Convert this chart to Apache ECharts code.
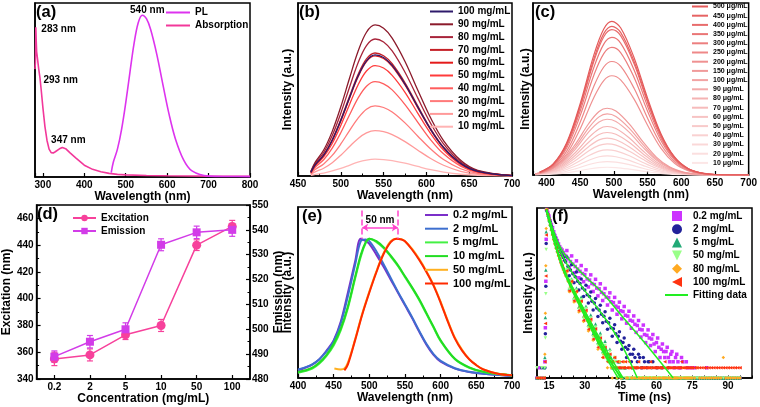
<!DOCTYPE html>
<html><head><meta charset="utf-8">
<script src="https://cdn.jsdelivr.net/npm/echarts@6/dist/echarts.min.js"></script>
<style>html,body{margin:0;padding:0;background:#fff}#c{width:760px;height:407px}</style>
</head><body><div id="c"></div>
<script>
// ---------- (a) ----------
const aPLx = [465,470,480,490,500,510,520,530,540,550,560,575,590,605,620,640,660,700,750,800];
const aPLy = [0.025,0.085,0.160,0.274,0.426,0.599,0.765,0.885,0.930,0.910,0.849,0.705,0.528,0.357,0.219,0.097,0.035,0.005,0.003,0.002];
const aAbsX = [281,282,283,284,285,287,290,293,296,300,305,310,315,320,325,330,340,347,355,365,380,400,420,440,460,480,500,550,600,700,800];
const aAbsY = [0.62,0.66,0.86,0.78,0.72,0.68,0.62,0.57,0.50,0.40,0.29,0.21,0.16,0.14,0.138,0.145,0.162,0.17,0.163,0.14,0.108,0.068,0.044,0.03,0.021,0.015,0.012,0.009,0.007,0.005,0.004];
// ---------- (b) ----------
const bX = [465,470,480,490,500,510,520,530,540,550,560,575,590,605,620,640,660,700];
const bNames = ['100 mg/mL','90 mg/mL','80 mg/mL','70 mg/mL','60 mg/mL','50 mg/mL','40 mg/mL','30 mg/mL','20 mg/mL','10 mg/mL'];
const b100 = [0.021,0.064,0.120,0.207,0.321,0.451,0.576,0.666,0.700,0.685,0.639,0.531,0.398,0.269,0.165,0.073,0.027,0.002];
const b90  = [0.026,0.079,0.150,0.258,0.400,0.562,0.718,0.831,0.873,0.854,0.797,0.662,0.496,0.335,0.205,0.091,0.033,0.003];
const b80  = [0.024,0.072,0.136,0.234,0.363,0.510,0.652,0.754,0.792,0.775,0.723,0.600,0.450,0.304,0.186,0.082,0.030,0.002];
const b70  = [0.021,0.065,0.122,0.210,0.326,0.458,0.585,0.677,0.711,0.695,0.649,0.539,0.404,0.273,0.167,0.074,0.027,0.002];
const b60  = [0.021,0.063,0.119,0.205,0.318,0.447,0.571,0.661,0.694,0.679,0.634,0.526,0.394,0.266,0.163,0.072,0.026,0.002];
const b50  = [0.019,0.058,0.110,0.188,0.292,0.411,0.525,0.607,0.638,0.624,0.582,0.484,0.362,0.245,0.150,0.066,0.024,0.002];
const b40  = [0.016,0.050,0.094,0.161,0.250,0.351,0.449,0.519,0.545,0.533,0.498,0.413,0.310,0.209,0.128,0.057,0.021,0.002];
const b30  = [0.012,0.037,0.070,0.119,0.185,0.261,0.333,0.386,0.405,0.396,0.370,0.307,0.230,0.156,0.095,0.042,0.015,0.001];
const b20  = [0.008,0.024,0.045,0.077,0.120,0.169,0.216,0.249,0.262,0.256,0.239,0.199,0.149,0.101,0.062,0.027,0.010,0.001];
const b10  = [0.003,0.009,0.017,0.029,0.044,0.062,0.080,0.092,0.097,0.095,0.089,0.074,0.055,0.037,0.023,0.010,0.004,0.000];
// ---------- (c) ----------
const cX = [390,410,430,450,470,485,497,510,530,550,570,590,610,630,650,700];
const cXlow = [383,403,423,443,463,478,490,503,523,543,563,583,603,623,643,700];
const cNames = ['500 μg/mL','450 μg/mL','400 μg/mL','350 μg/mL','300 μg/mL','250 μg/mL','200 μg/mL','150 μg/mL','100 μg/mL','90 μg/mL','80 μg/mL','70 μg/mL','60 μg/mL','50 μg/mL','40 μg/mL','30 μg/mL','20 μg/mL','10 μg/mL'];
const c500 = [0.017,0.065,0.188,0.415,0.694,0.849,0.893,0.856,0.682,0.447,0.239,0.105,0.038,0.012,0.003,0];
const c450 = [0.016,0.063,0.182,0.402,0.671,0.822,0.864,0.829,0.660,0.432,0.232,0.102,0.037,0.011,0.003,0];
const c400 = [0.016,0.062,0.178,0.393,0.657,0.804,0.845,0.810,0.646,0.423,0.226,0.100,0.036,0.011,0.003,0];
const c350 = [0.015,0.058,0.169,0.372,0.622,0.761,0.800,0.767,0.611,0.400,0.214,0.094,0.034,0.010,0.002,0];
const c300 = [0.014,0.054,0.157,0.345,0.577,0.706,0.742,0.712,0.567,0.371,0.199,0.088,0.032,0.010,0.002,0];
const c250 = [0.013,0.048,0.139,0.307,0.513,0.628,0.660,0.633,0.504,0.330,0.177,0.078,0.028,0.009,0.002,0];
const c200 = [0.011,0.042,0.122,0.268,0.448,0.549,0.577,0.553,0.441,0.289,0.155,0.068,0.025,0.008,0.002,0];
const c150 = [0.007,0.028,0.082,0.180,0.301,0.369,0.388,0.372,0.296,0.194,0.104,0.046,0.017,0.005,0.001,0];
const c100 = [0.007,0.026,0.075,0.165,0.276,0.338,0.355,0.340,0.271,0.178,0.095,0.042,0.015,0.005,0.001,0];
const c90  = [0.006,0.024,0.068,0.151,0.252,0.308,0.324,0.311,0.248,0.162,0.087,0.038,0.014,0.004,0.001,0];
const c80  = [0.005,0.021,0.060,0.131,0.219,0.268,0.282,0.270,0.215,0.141,0.076,0.033,0.012,0.004,0.001,0];
const c70  = [0.005,0.018,0.052,0.115,0.192,0.235,0.247,0.237,0.189,0.124,0.066,0.029,0.011,0.003,0.001,0];
const c60  = [0.004,0.016,0.045,0.100,0.166,0.204,0.214,0.205,0.163,0.107,0.057,0.025,0.009,0.003,0.001,0];
const c50  = [0.003,0.013,0.038,0.084,0.141,0.172,0.181,0.174,0.138,0.091,0.049,0.021,0.008,0.002,0.001,0];
const c40  = [0.003,0.011,0.031,0.068,0.113,0.139,0.146,0.140,0.112,0.073,0.039,0.017,0.006,0.002,0,0];
const c30  = [0.002,0.008,0.023,0.052,0.086,0.106,0.111,0.106,0.085,0.056,0.030,0.013,0.005,0.001,0,0];
const c20  = [0.001,0.006,0.016,0.036,0.061,0.074,0.078,0.075,0.060,0.039,0.021,0.009,0.003,0.001,0,0];
const c10  = [0.001,0.003,0.009,0.021,0.035,0.043,0.045,0.043,0.034,0.023,0.012,0.005,0.002,0.001,0,0];
// ---------- (d) ----------
const catD = ['0.2','2','5','10','50','100'];
const excit = [355,358,373,380,440,454];
const excErr = [5,4.5,3.5,4.5,4,4.5];
const emis = [489,495,500,534,539,540];
const emErr = [2.3,2.5,2.6,2.4,2.5,2.6];
// ---------- (e) ----------
const eX1 = [400,410,420,430,440,450,460,470,480,488,495,500,510,520,530,540,550,560,570,580,590,600,620,640,660,700];
const e02 = [0.045,0.06,0.078,0.11,0.16,0.22,0.33,0.50,0.68,0.815,0.80,0.785,0.72,0.65,0.575,0.50,0.425,0.35,0.27,0.195,0.135,0.095,0.055,0.035,0.025,0.012];
const e2  = [0.05,0.062,0.08,0.11,0.155,0.215,0.32,0.48,0.66,0.80,0.81,0.80,0.74,0.665,0.585,0.505,0.43,0.355,0.275,0.20,0.14,0.10,0.057,0.036,0.025,0.012];
const e5  = [0.03,0.04,0.055,0.085,0.13,0.19,0.28,0.41,0.58,0.71,0.79,0.815,0.795,0.76,0.71,0.655,0.59,0.525,0.455,0.375,0.295,0.215,0.11,0.06,0.035,0.015];
const e10 = [0.035,0.045,0.06,0.09,0.135,0.2,0.29,0.42,0.59,0.72,0.795,0.815,0.80,0.765,0.715,0.66,0.595,0.53,0.46,0.38,0.30,0.22,0.112,0.062,0.036,0.016];
const eX50 = [451,460,465,470,480,490,500,510,520,530,538,545,550,560,570,580,590,600,610,620,630,640,650,660,680,700];
const e50 = [0.055,0.05,0.055,0.09,0.225,0.375,0.505,0.625,0.73,0.80,0.815,0.812,0.80,0.755,0.695,0.625,0.545,0.445,0.335,0.235,0.165,0.11,0.075,0.05,0.025,0.016];
const eX100 = [465,470,480,490,500,510,520,530,538,545,550,560,570,580,590,600,610,620,630,640,650,660,680,700];
const e100 = [0.045,0.08,0.22,0.37,0.50,0.62,0.725,0.795,0.815,0.81,0.80,0.75,0.69,0.62,0.54,0.44,0.33,0.23,0.16,0.11,0.075,0.05,0.025,0.016];
const eShift = {from:490, to:540, top:0.98, bottom:0.815, arrow:0.88};
// ---------- (f) ----------
const tF = [10,11,12,13,14,15,16,17,18,19,20,21,22,23,24,25,26,27,28,29,30,31,32,33,34,35,36,37,38,39,40,41,42,43,44,45,46,47,48,49,50,51,52,53,54,55,56,57,58,59,60,61,62,63,64,65,66,67,68,69,70,71,72,73,74,75,76,77,78,79,80,81,82,83,84,85,86,87,88,89,90,91,92,93,94,95];
const f02 = [1,2,1,1, 90000,58000,33000,20000,12900,8800,6400,4900,3900,3200, 2660,2240,1900,1600,1370,1180,1100,820,760,600, 560,440,420,330,300,240,230,175,165,130, 120,95,90,70,66,50,47,38,35,27, 26,19,18,15,14,10,11,8,7,6, 6,4,5,3,4,3,2,3,1,2, 1,1,2,1,1,1,1,2,1,1, 1,1,1,1,1,1,1,1,1,1,1,1];
const f2 = [1,1,2,1, 88000,51000,29000,17400,10800,7100,4860,3480,2570,1950, 1500,1170,950,700,600,440,390,280,250,180, 160,115,100,75,66,47,42,30,28,20, 17,12,11,8,7,5,5,4,3,4, 2,3,2,3,2,1,2,1,2,1, 1,2,1,1,1,1,1,1,1,1, 1,1,1,1,1,1,1,1,1,1, 1,1,1,1,1,1,1,1,1,1,1,1];
const f5 = [1,1,1,2, 85000,45000,24000,13000,7300,4400,2750,1800,1220,850, 600,440,330,230,180,125,98,67,53,37, 29,20,16,11,8,7,5,4,3,2, 3,2,1,2,1,1,2,1,1,1, 1,1,1,1,1,1,1,1,1,1, 1,1,1,1,1,1,1,1,1,1, 1,1,1,1,1,1,1,1,1,1, 1,1,1,1,1,1,1,1,1,1,1,1];
const f50 = [2,1,2,1, 87000,46000,23500,12600,7100,4200,2620,1700,1145,790, 557,400,285,200,150,105,82,57,44,30, 24,16,13,9,7,5,4,3,2,3, 2,1,2,1,1,1,1,2,1,1, 1,1,1,1,1,1,1,1,1,1, 1,1,1,1,1,1,1,1,1,1, 1,1,1,1,1,1,1,1,1,1, 1,1,1,1,1,1,1,1,1,1,1,1];
const f80 = [1,1,1,1, 90000,44000,22000,11500,6400,3800,2350,1500,1000,690, 480,345,238,175,122,92,63,48,33,26, 18,14,10,7,5,4,3,2,3,2, 2,1,2,2,1,2,1,1,2,1, 1,2,1,1,2,1,1,1,2,1, 1,1,2,1,1,1,1,2,1,1, 1,1,1,2,1,1,1,1,1,1, 1,1,1,1,4,1,1,1,1,1,1,1];
const f100 = [1,1,1,1, 89000,45000,22800,12000,6800,4000,2500,1600,1070,740, 520,375,260,190,135,100,70,54,38,29, 20,16,11,8,6,5,4,3,2,2, 2,2,2,3,2,2,2,2,2,2, 2,2,2,2,2,2,2,2,2,2, 2,2,2,2,2,2,2,2,2,2, 2,2,2,2,2,2,2,2,2,2, 2,2,2,2,2,2,2,2,2,2,2,2];
// half-channel readings (noisy cloud)
const tF2 = [14.5,15.5,16.5,17.5,18.5,19.5,20.5,21.5,22.5,23.5,24.5,25.5,26.5,27.5,28.5,29.5,30.5,31.5,32.5,33.5,34.5,35.5,36.5,37.5,38.5,39.5,40.5,41.5,42.5,43.5,44.5,45.5,46.5,47.5,48.5,49.5,50.5,51.5,52.5,53.5,54.5,55.5,56.5,57.5,58.5,59.5,60.5,61.5,62.5,63.5,64.5,65.5,66.5,67.5,68.5,69.5,70.5,71.5,72.5,73.5,74.5];
const h02 = [74000,42000,26500,15500,11000,7300,5800,4100,5600,1750, 3900,1240,2790,890,2030,680,1520,475,1080,350, 800,260,590,190,430,140,320,100,235,75, 170,55,127,41,92,29,67,22,49,16, 36,11,26,9,19,6,15,4,10,4, 8,3,6,2,5,2,4,1,3,1,2];
const h2 = [67000,38500,22500,13700,8800,5900,4100,2900,3600,1020, 2130,630,1310,390,820,250,530,160,340,100, 217,64,139,42,89,27,57,17,37,11, 23,7,15,4,9,3,7,2,5,2, 4,1,3,1,3,1,2,1,2,1, 1,1,1,1,1,1,1,1,1,1,1];
const h5 = [62000,33000,17600,9700,5700,3500,2200,1480,1630,430, 820,230,440,122,240,66,130,36,71,20, 39,11,21,6,12,4,7,2,4,1, 3,1,2,1,1,1,1,1,1,1, 1,1,1,1,1,1,1,1,1,1, 1,1,1,1,1,1,1,1,1,1,1];
const h50 = [63000,33000,17200,9400,5500,3300,2100,1400,1520,400, 750,200,380,104,200,56,110,30,58,16, 31,9,17,5,9,3,6,2,4,1, 3,1,2,1,1,1,1,1,1,1, 1,1,1,1,1,1,1,1,1,1, 1,1,1,1,1,1,1,1,1,1,1];
const h80 = [63000,31000,16000,8600,4900,3000,1880,1230,1330,345, 650,172,325,88,170,46,88,24,47,13, 25,7,13,4,7,2,5,1,4,1, 3,1,3,1,2,1,2,1,1,2, 1,1,2,1,1,1,2,1,1,1, 2,1,1,1,1,2,1,1,1,1,1];
const h100 = [63000,32000,16500,9000,5200,3150,2000,1300,1420,370, 700,188,355,96,185,50,98,27,53,14, 28,8,15,4,8,3,5,3,4,3, 2,3,2,2,3,2,2,2,3,2, 2,2,2,3,2,2,2,2,2,3, 2,2,2,2,2,2,3,2,2,2,2];
const riseT = [13.3,13.5,13.7,13.85];
const rise02 = [3,30,700,12000], rise2 = [2,20,500,9000], rise5 = [4,60,1500,20000], rise50 = [2,15,300,6000], rise80 = [5,80,2000,25000], rise100 = [3,40,1000,16000];
const fitT02 = [14,15,16,17,18,20,22,25,30,37,45,55,67];
const fitC02 = [90000,56000,33000,20000,13000,6500,4000,2300,1000,343,74,11,1];
const fitT2 = [14,15,16,17,18,20,22,25,30,35,40,46,52];
const fitC2 = [88000,51000,29000,17400,10800,4860,2570,1170,370,122,40,8,1];
const fitT5 = [14,15,16,17,18,20,22,25,30,35,40,46];
const fitC5 = [85000,45000,24000,13000,7300,2750,1220,440,94,21,5,1];
const fitT50 = [14,15,16,17,18,20,22,25,30,35,40,45];
const fitC50 = [87000,46000,23500,12600,7100,2620,1145,397,80,17,4,1];
const fitT80 = [14,15,16,17,18,20,22,25,30,35,40,44];
const fitC80 = [90000,44000,22000,11500,6400,2350,1000,340,65,13,3,1];
const fitT100 = [14,15,16,17,18,20,22,25,30,35,40,45.5];
const fitC100 = [89000,45000,22800,12000,6800,2500,1070,370,72,15,3.5,1];

// ---------- styling ----------
const FF = '"Liberation Sans", Arial, sans-serif';
const TXT = {fontFamily: FF, fontWeight: 'bold', color: '#000'};
const AXL = {color: '#000', width: 1.5};
const zip = (xs, ys) => xs.map((x, i) => [x, ys[i]]);

function xAx(g, extra) {
  return Object.assign({
    gridIndex: g, type: 'value',
    axisLine: {show: true, onZero: false, lineStyle: AXL},
    axisTick: {show: true, inside: true, length: 4, lineStyle: {color: '#000', width: 1.2}},
    minorTick: {show: false},
    axisLabel: Object.assign({fontSize: 10, margin: 3}, TXT),
    splitLine: {show: false},
    nameLocation: 'middle', nameGap: 13,
    nameTextStyle: Object.assign({fontSize: 12}, TXT)
  }, extra);
}
function yHidden(g, name, gap, extra) {
  return Object.assign({
    gridIndex: g, type: 'value', min: 0, max: 1,
    axisLine: {show: true, onZero: false, lineStyle: AXL},
    axisTick: {show: false}, axisLabel: {show: false}, splitLine: {show: false},
    name: name, nameLocation: 'middle', nameGap: gap,
    nameTextStyle: Object.assign({fontSize: 12}, TXT)
  }, extra || {});
}
function lineS(name, xi, yi, xs, ys, color, w, extra) {
  return Object.assign({
    name: name, type: 'line', xAxisIndex: xi, yAxisIndex: yi, data: zip(xs, ys),
    symbol: 'none', showSymbol: false, smooth: 0.35,
    lineStyle: {color: color, width: w}, itemStyle: {color: color}
  }, extra || {});
}
function errBar(color) {
  return function (params, api) {
    const x = api.value(0);
    const p1 = api.coord([x, api.value(1)]);
    const p2 = api.coord([x, api.value(2)]);
    const w = 3, st = {stroke: color, lineWidth: 1.2};
    return {type: 'group', children: [
      {type: 'line', shape: {x1: p1[0], y1: p1[1], x2: p2[0], y2: p2[1]}, style: st},
      {type: 'line', shape: {x1: p1[0] - w, y1: p1[1], x2: p1[0] + w, y2: p1[1]}, style: st},
      {type: 'line', shape: {x1: p2[0] - w, y1: p2[1], x2: p2[0] + w, y2: p2[1]}, style: st}
    ]};
  };
}
function legendLine(o) {
  return Object.assign({orient: 'vertical', padding: 0, selectedMode: false, icon: 'rect', itemHeight: 2,
    textStyle: Object.assign({fontSize: 10, lineHeight: 10}, TXT)}, o);
}
const lblTxt = Object.assign({fontSize: 10}, TXT);

const bColors = ['#2e1a6b','#8b1a2b','#a8243a','#c52027','#e41a1a','#ff3b3b','#ff5c5c','#ff7a7a','#ff9999','#ffb4b4'];
const bData = [b100,b90,b80,b70,b60,b50,b40,b30,b20,b10];
const cColors = ['#e45a5a','#e66363','#e86c6c','#ea7676','#ec7f7f','#ee8888','#ef9191','#f09a9a','#f2a3a3','#f3abab','#f4b3b3','#f6bbbb','#f7c3c3','#f8caca','#f9d1d1','#fad8d8','#fbdfdf','#fce6e6'];
const cData = [c500,c450,c400,c350,c300,c250,c200,c150,c100,c90,c80,c70,c60,c50,c40,c30,c20,c10];
const eNames = ['0.2\u00a0mg/mL','2\u00a0mg/mL','5\u00a0mg/mL','10\u00a0mg/mL','50\u00a0mg/mL','100\u00a0mg/mL'];
const fNames = ['0.2 mg/mL\u00a0','2 mg/mL\u00a0','5 mg/mL\u00a0','50 mg/mL\u00a0','80 mg/mL\u00a0','100 mg/mL\u00a0'];
const fColors = ['#cc33ff','#22229a','#22aa77','#99ff88','#ffaa22','#ff3311'];
const fSymbols = ['rect','circle','triangle','path://M0,0 L10,0 L5,10 Z','diamond','path://M10,0 L10,10 L0,5 Z'];
const fData = [f02,f2,f5,f50,f80,f100];
const fHalf = [h02,h2,h5,h50,h80,h100];
const fRise = [rise02,rise2,rise5,rise50,rise80,rise100];
const fFitT = [fitT02,fitT2,fitT5,fitT50,fitT80,fitT100];
const fFitC = [fitC02,fitC2,fitC5,fitC50,fitC80,fitC100];

const series = [];
// (a)
series.push(lineS('Absorption', 0, 0, aAbsX, aAbsY, '#f2389a', 1.6, {smooth: false,
  markPoint: {symbol: 'circle', symbolSize: 1, itemStyle: {color: 'rgba(0,0,0,0)'}, silent: true,
    data: [
      {coord: [283, 0.86], label: Object.assign({show: true, position: 'right', distance: 5, offset: [0, 2], formatter: '283 nm'}, lblTxt)},
      {coord: [293, 0.57], label: Object.assign({show: true, position: 'right', distance: 5, offset: [-2, 2], formatter: '293 nm'}, lblTxt)},
      {coord: [347, 0.17], label: Object.assign({show: true, position: 'inside', offset: [6, -7.5], formatter: '347 nm'}, lblTxt)}
    ]}}));
series.push(lineS('PL', 0, 0, aPLx, aPLy, '#dd33ee', 1.6, {
  markPoint: {symbol: 'circle', symbolSize: 1, itemStyle: {color: 'rgba(0,0,0,0)'}, silent: true,
    data: [{coord: [540, 0.93], label: Object.assign({show: true, position: 'inside', offset: [5, -5], formatter: '540 nm'}, lblTxt)}]}}));
// (b)
for (let i = bNames.length - 1; i >= 0; i--) series.push(lineS(bNames[i], 1, 1, bX, bData[i], bColors[i], 1.3));
// (c)
for (let i = cNames.length - 1; i >= 0; i--) series.push(lineS(cNames[i], 2, 2, i < 7 ? cX : cXlow, cData[i], cColors[i], 1.2));
// (d)
series.push({name: 'excErr', type: 'custom', xAxisIndex: 3, yAxisIndex: 3, renderItem: errBar('#f7419b'),
  data: catD.map((c, i) => [i, excit[i] - excErr[i], excit[i] + excErr[i]]), z: 3});
series.push({name: 'emErr', type: 'custom', xAxisIndex: 3, yAxisIndex: 4, renderItem: errBar('#d23ce8'),
  data: catD.map((c, i) => [i, emis[i] - emErr[i], emis[i] + emErr[i]]), z: 3});
series.push({name: 'Excitation', type: 'line', xAxisIndex: 3, yAxisIndex: 3, data: excit, symbol: 'circle', symbolSize: 9,
  lineStyle: {color: '#f7419b', width: 1.5}, itemStyle: {color: '#f7419b'}, z: 4});
series.push({name: 'Emission', type: 'line', xAxisIndex: 3, yAxisIndex: 4, data: emis, symbol: 'rect', symbolSize: 8,
  lineStyle: {color: '#d23ce8', width: 1.5}, itemStyle: {color: '#d23ce8'}, z: 4});
// (e)
series.push(lineS(eNames[0], 4, 5, eX1, e02, '#7b2fc9', 2, {
  markLine: {silent: true, animation: false, symbol: ['none', 'none'], label: {show: false},
    lineStyle: {color: '#ff44cc', width: 1.5, type: 'dashed'},
    data: [
      [{coord: [eShift.from, eShift.top]}, {coord: [eShift.from, eShift.bottom]}],
      [{coord: [eShift.to, eShift.top]}, {coord: [eShift.to, eShift.bottom]}],
      [{coord: [eShift.from, eShift.arrow], symbol: 'arrow', symbolSize: 6, lineStyle: {type: 'solid', color: '#ff44cc', width: 1.5},
        label: Object.assign({show: true, position: 'middle', distance: 2, formatter: '50 nm'}, lblTxt)},
       {coord: [eShift.to, eShift.arrow], symbol: 'arrow', symbolSize: 6}]
    ]}}));
series.push(lineS(eNames[1], 4, 5, eX1, e2, '#3d6fcf', 2));
series.push(lineS(eNames[2], 4, 5, eX1, e5, '#44f044', 2));
series.push(lineS(eNames[3], 4, 5, eX1, e10, '#22dd22', 2));
series.push(lineS(eNames[4], 4, 5, eX50, e50, '#ffb020', 2));
series.push(lineS(eNames[5], 4, 5, eX100, e100, '#ff2a00', 2));
// (f)
for (let i = 0; i < 6; i++) {
  series.push({name: fNames[i], type: 'scatter', xAxisIndex: 5, yAxisIndex: 6, symbol: fSymbols[i], symbolSize: 3.5,
    data: zip(tF, fData[i]).concat(zip(tF2, fHalf[i]), zip(riseT, fRise[i])),
    itemStyle: {color: fColors[i], opacity: 1}, z: 2 + i * 0.1});
}
for (let i = 0; i < 6; i++) {
  series.push({name: 'Fitting data', type: 'line', xAxisIndex: 5, yAxisIndex: 6, data: zip(fFitT[i], fFitC[i]),
    symbol: 'none', smooth: 0.3, lineStyle: {color: '#22ee22', width: 1.5}, itemStyle: {color: '#22ee22'}, z: 5});
}

const option = {
  animation: false,
  backgroundColor: '#fff',
  textStyle: {fontFamily: FF},
  title: [
    {text: '(a)', left: 36, top: 4}, {text: '(b)', left: 299, top: 4}, {text: '(c)', left: 535, top: 4},
    {text: '(d)', left: 37, top: 206}, {text: '(e)', left: 302, top: 208}, {text: '(f)', left: 552, top: 208}
  ].map(t => Object.assign({padding: 0, textStyle: Object.assign({fontSize: 16.5}, TXT)}, t)),
  grid: [
    {left: 35, top: 3, width: 215, height: 174},
    {left: 298, top: 3, width: 214, height: 173},
    {left: 533, top: 3, width: 217, height: 172},
    {left: 35, top: 205, width: 215, height: 174},
    {left: 298, top: 207, width: 214, height: 171},
    {left: 537, top: 208, width: 215, height: 170}
  ].map(g => Object.assign({show: true, borderColor: '#000', borderWidth: 1.5, backgroundColor: 'rgba(0,0,0,0)'}, g)),
  xAxis: [
    xAx(0, {min: 281, max: 800, name: 'Wavelength (nm)',
      axisLabel: Object.assign({fontSize: 10, margin: 3, formatter: v => (v % 100 === 0 ? String(v) : '')}, TXT)}),
    xAx(1, {min: 450, max: 700, interval: 50, name: 'Wavelength (nm)',
      minorTick: {show: true, splitNumber: 2, length: 2.5, lineStyle: {color: '#000', width: 1}}}),
    xAx(2, {min: 380, max: 700, name: 'Wavelength (nm)',
      axisLabel: Object.assign({fontSize: 10, margin: 3, formatter: v => (v % 50 === 0 ? String(v) : '')}, TXT)}),
    xAx(3, {type: 'category', data: catD, boundaryGap: true, name: 'Concentration (mg/mL)', nameGap: 12,
      axisTick: {show: true, inside: true, alignWithLabel: true, length: 4, lineStyle: {color: '#000', width: 1.2}}}),
    xAx(4, {min: 400, max: 700, interval: 50, name: 'Wavelength (nm)',
      minorTick: {show: true, splitNumber: 2, length: 2.5, lineStyle: {color: '#000', width: 1}}}),
    xAx(5, {min: 10, max: 100, interval: 5, name: 'Time (ns)',
      axisTick: {show: true, inside: true, length: 2.5, lineStyle: {color: '#000', width: 1}},
      axisLabel: Object.assign({fontSize: 10, margin: 3, formatter: v => (v % 15 === 0 && v >= 15 && v <= 90 ? String(v) : '')}, TXT)})
  ],
  yAxis: [
    yHidden(0, '', 4),
    yHidden(1, 'Intensity (a.u.)', 4),
    yHidden(2, 'Intensity (a.u.)', 1.5),
    {gridIndex: 3, type: 'value', min: 340, max: 470, interval: 20,
      axisLine: {show: true, onZero: false, lineStyle: AXL},
      axisTick: {show: true, inside: true, length: 4, lineStyle: {color: '#000', width: 1.2}},
      minorTick: {show: true, splitNumber: 2, length: 2.5, lineStyle: {color: '#000', width: 1}},
      axisLabel: Object.assign({fontSize: 10, margin: 3, formatter: v => (v % 20 === 0 ? String(v) : '')}, TXT),
      splitLine: {show: false},
      name: 'Excitation (nm)', nameLocation: 'middle', nameGap: 21, nameTextStyle: Object.assign({fontSize: 12}, TXT)},
    {gridIndex: 3, type: 'value', position: 'right', min: 480, max: 550, interval: 10,
      axisLine: {show: true, onZero: false, lineStyle: AXL},
      axisTick: {show: true, inside: true, length: 4, lineStyle: {color: '#000', width: 1.2}},
      minorTick: {show: true, splitNumber: 2, length: 2.5, lineStyle: {color: '#000', width: 1}},
      axisLabel: Object.assign({fontSize: 10, margin: 2}, TXT),
      splitLine: {show: false},
      name: 'Emission (nm)', nameLocation: 'middle', nameGap: 20, nameTextStyle: Object.assign({fontSize: 12}, TXT)},
    yHidden(4, 'Intensity (a.u.)', 4),
    yHidden(5, 'Intensity (a.u.)', 2, {type: 'log', logBase: 10, min: 1, max: 100000})
  ],
  legend: [
    legendLine({left: 166, top: 7.5, itemWidth: 24, itemGap: 3, data: ['PL', 'Absorption']}),
    legendLine({left: 430, top: 6.5, itemWidth: 23, itemGap: 2.8, data: bNames}),
    legendLine({left: 692, top: 3, itemWidth: 16, itemGap: 2.2, data: cNames,
      textStyle: Object.assign({fontSize: 7, lineHeight: 7}, TXT)}),
    {orient: 'vertical', padding: 0, selectedMode: false, left: 72, top: 213, itemWidth: 23, itemHeight: 8, itemGap: 3,
      textStyle: Object.assign({fontSize: 10, lineHeight: 10}, TXT), data: ['Excitation', 'Emission']},
    legendLine({left: 425, top: 209.5, itemWidth: 23, itemGap: 2.7, data: eNames,
      textStyle: Object.assign({fontSize: 11, lineHeight: 11}, TXT)}),
    {orient: 'vertical', padding: 0, selectedMode: false, left: 672, top: 211, itemWidth: 10, itemHeight: 10, itemGap: 3.2,
      textStyle: Object.assign({fontSize: 10, lineHeight: 10, padding: [0, 0, 0, 6]}, TXT), data: fNames},
    legendLine({left: 665, top: 290, itemWidth: 23, itemGap: 3, data: ['Fitting data']})
  ],
  series: series
};
const chart = echarts.init(document.getElementById('c'));
chart.setOption(option);
</script></body></html>
